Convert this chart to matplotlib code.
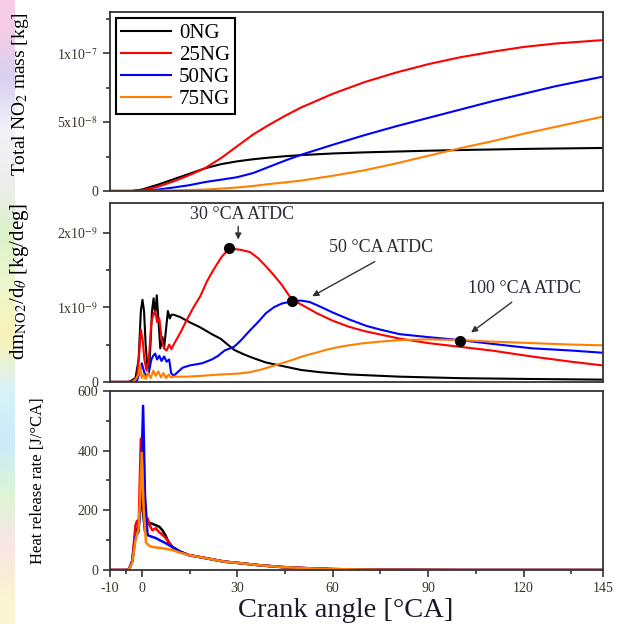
import matplotlib
matplotlib.use("Agg")
import matplotlib.pyplot as plt
import numpy as np

### Data Start ###
labels = ["0NG", "25NG", "50NG", "75NG"]
colors = ["black", "#ff0000", "#0000ff", "#ff8000"]

# total NO2 mass, units of 1e-8 kg
mass_x = [-10, -3, 0, 5, 10, 15, 20, 25, 30, 35, 40, 45, 50, 60, 70, 80, 90, 100, 110, 120, 130, 145]
mass_0ng = [0, 0, 0.1, 0.45, 0.85, 1.25, 1.65, 1.95, 2.15, 2.3, 2.42, 2.52, 2.6, 2.72, 2.8, 2.86, 2.92, 2.97, 3.01, 3.05, 3.08, 3.12]
mass_25ng = [0, 0, 0.05, 0.3, 0.7, 1.15, 1.67, 2.4, 3.25, 4.1, 4.8, 5.45, 6.05, 7.05, 7.9, 8.6, 9.2, 9.7, 10.1, 10.45, 10.7, 10.95]
mass_50ng = [0, 0, 0.02, 0.1, 0.25, 0.42, 0.65, 0.82, 1.0, 1.3, 1.75, 2.2, 2.62, 3.35, 4.05, 4.7, 5.3, 5.9, 6.5, 7.05, 7.6, 8.3]
mass_75ng = [0, 0, 0, 0.02, 0.04, 0.07, 0.1, 0.17, 0.25, 0.36, 0.5, 0.62, 0.75, 1.1, 1.5, 2.0, 2.55, 3.1, 3.6, 4.15, 4.65, 5.4]

# dm/dtheta, units of 1e-9 kg/deg
rate_x_0ng = [-10, -4, -2, -1, -0.3, 0.2, 0.7, 1.2, 1.8, 2.5, 3.2, 3.7, 4.2, 4.7, 5.2, 5.8, 6.5, 7.0, 7.6, 8.2,
              8.8, 9.3, 10, 12, 15, 18.4, 22, 24.7, 27, 29, 32, 35, 39, 45.6, 50, 56, 65, 81, 100, 120, 145]
rate_0ng = [0, 0, 0.05, 0.3, 0.95, 1.1, 0.95, 0.5, 0.18, 0.3, 0.95, 1.12, 0.9, 1.16, 0.85, 0.45, 0.6, 0.45, 0.7, 0.95,
            0.85, 0.9, 0.9, 0.87, 0.8, 0.73, 0.64, 0.58, 0.5, 0.43, 0.37, 0.32, 0.26, 0.2, 0.16, 0.13, 0.1, 0.07,
            0.05, 0.04, 0.03]
rate_x_25ng = [-10, -3, -1.5, -0.8, -0.3, 0.3, 0.8, 1.5, 2.2, 3.0, 3.6, 4.2, 4.8, 5.5, 6.3, 7.0, 7.8, 8.6, 9.3, 10,
               12, 14, 16, 18.4, 20.5, 22.5, 25, 27.5, 31, 34, 36.5, 39, 41.5, 44, 47.2, 50, 55, 60, 65, 70, 81,
               90, 100, 110, 122.6, 135, 145]
rate_25ng = [0, 0, 0.05, 0.4, 0.7, 0.55, 0.3, 0.15, 0.3, 0.8, 0.9, 0.95, 0.8, 0.85, 0.55, 0.45, 0.42, 0.5, 0.44, 0.5,
             0.65, 0.82, 0.98, 1.15, 1.35, 1.5, 1.67, 1.79, 1.77, 1.74, 1.66, 1.55, 1.43, 1.3, 1.1, 1.04, 0.92, 0.82,
             0.74, 0.68, 0.58, 0.52, 0.47, 0.42, 0.34, 0.27, 0.22]
rate_x_50ng = [-10, -3, -1.5, -0.5, 0, 0.8, 1.5, 2.2, 3.0, 3.6, 4.2, 4.8, 5.5, 6.2, 7.0, 7.8, 8.6, 9.2, 10, 11,
               12.8, 15, 19, 22, 24, 26, 29, 31, 34, 36.5, 39, 41.5, 44, 47.2, 50, 52.8, 56, 60, 65, 70.6, 75, 81,
               90, 100, 110, 122.6, 135, 145]
rate_50ng = [0, 0, 0.02, 0.15, 0.25, 0.12, 0.08, 0.12, 0.3, 0.35, 0.38, 0.3, 0.35, 0.28, 0.34, 0.27, 0.3, 0.12, 0.08, 0.12,
             0.19, 0.22, 0.25, 0.3, 0.35, 0.42, 0.47, 0.55, 0.69, 0.8, 0.92, 1.0, 1.05, 1.08, 1.09, 1.07, 1.01, 0.93,
             0.84, 0.75, 0.7, 0.64, 0.6, 0.56, 0.51, 0.45, 0.42, 0.39]
rate_x_75ng = [-10, -3, -2, -1, -0.5, 0, 0.6, 1.2, 2, 2.8, 3.6, 4.4, 5.2, 6, 6.8, 7.6, 8.4, 9.2, 10, 14,
               18.4, 25, 30, 34, 38, 41, 44, 47, 49.7, 52, 54.7, 58, 61, 65, 70, 75, 81, 90, 100, 110, 122.6, 135, 145]
rate_75ng = [0, 0, 0.03, 0.1, 0.22, 0.05, 0.1, 0.04, 0.12, 0.05, 0.15, 0.08, 0.14, 0.06, 0.12, 0.05, 0.1, 0.06, 0.07, 0.07,
             0.08, 0.1, 0.11, 0.13, 0.17, 0.21, 0.25, 0.29, 0.33, 0.36, 0.39, 0.43, 0.46, 0.49, 0.52, 0.54, 0.56,
             0.57, 0.56, 0.54, 0.52, 0.5, 0.49]

# marked points on the rate curves
mark_x = [27.5, 47.2, 100]
mark_y = [1.79, 1.08, 0.55]
mark_text = ["30 \u00b0CA ATDC", "50 \u00b0CA ATDC", "100 \u00b0CA ATDC"]

# heat release rate, J/degCA
hrr_x_0ng = [-10, -5, -4, -3, -2, -1, -0.5, 0, 0.5, 1, 1.5, 2.3, 3.3, 4.4, 5.5, 6.5, 7.5, 8.4, 9.6, 12,
             14.8, 20, 26, 30, 37, 44, 52, 60, 75, 100, 145]
hrr_0ng = [0, 0, 3, 30, 120, 150, 200, 270, 180, 130, 150, 158, 155, 150, 145, 133, 115, 93, 77, 62,
           50, 40, 28, 24, 16, 10, 6, 3, 1, 0, 0]
hrr_x_25ng = [-10, -5, -4, -3, -2, -1.5, -1, -0.3, 0.3, 1, 1.8, 2.5, 3.3, 4.4, 5.4, 6.5, 7.5, 8.5, 9.6, 12,
              14.8, 20, 26, 30, 37, 44, 52, 60, 75, 100, 145]
hrr_25ng = [0, 0, 3, 30, 150, 165, 140, 440, 250, 150, 173, 150, 133, 140, 127, 118, 107, 95, 77, 60,
            50, 40, 28, 24, 16, 10, 6, 3, 1, 0, 0]
hrr_x_50ng = [-10, -5, -4, -3, -2, -1, -0.3, 0.4, 1, 1.8, 3, 4.4, 6, 7.5, 9.6, 12,
              14.8, 20, 26, 30, 37, 44, 52, 60, 75, 100, 145]
hrr_50ng = [0, 0, 3, 30, 110, 130, 250, 550, 250, 117, 112, 107, 98, 90, 77, 62,
            50, 40, 28, 24, 16, 10, 6, 3, 1, 0, 0]
hrr_x_75ng = [-10, -5, -4, -3, -2, -1, -0.5, 0, 0.6, 1.3, 2.2, 3.3, 5, 6.5, 8, 9.6, 12,
              14.8, 20, 26, 30, 37, 44, 52, 60, 75, 100, 145]
hrr_75ng = [0, 0, 3, 25, 100, 140, 250, 393, 200, 93, 82, 77, 75, 73, 70, 67, 58,
            50, 40, 28, 24, 16, 10, 6, 3, 1, 0, 0]

x_ticks = [-10, 0, 30, 60, 90, 120, 145]
x_minor = [-5, 15, 45, 75, 105, 135]
### Data End ###

plt.rcParams['font.family'] = ['Liberation Serif', 'DejaVu Serif']
plt.rcParams['mathtext.fontset'] = 'stix'

tick_col = '#3a3428'
spine_col = '#333333'

fig = plt.figure(figsize=(6.25, 6.24), dpi=100)

# pastel strip on the far left (slide background)
strip = fig.add_axes([0, 0, 0.024, 1])
strip_cols = np.array([[0.97, 0.80, 0.90], [0.85, 0.82, 0.95], [0.95, 0.95, 0.97], [0.93, 0.93, 0.93],
                       [0.86, 0.95, 0.80], [0.93, 0.97, 0.80], [0.98, 0.95, 0.72], [0.85, 0.95, 0.97],
                       [0.80, 0.92, 0.98], [0.87, 0.96, 0.84], [0.98, 0.90, 0.90], [0.98, 0.96, 0.82]])
strip.imshow(strip_cols.reshape(-1, 1, 3), aspect='auto', interpolation='bilinear', extent=[0, 1, 0, 1])
strip.axis('off')

ax1 = fig.add_axes([0.176, 0.694, 0.789, 0.287])
ax2 = fig.add_axes([0.176, 0.388, 0.789, 0.287])
ax3 = fig.add_axes([0.176, 0.0865, 0.789, 0.287])

for ys, lab, c in zip([mass_0ng, mass_25ng, mass_50ng, mass_75ng], labels, colors):
    ax1.plot(mass_x, np.array(ys) * 1e-8, color=c, lw=1.5, label=lab)

for xs, ys, c in zip([rate_x_0ng, rate_x_25ng, rate_x_50ng, rate_x_75ng],
                     [rate_0ng, rate_25ng, rate_50ng, rate_75ng], colors):
    ax2.plot(xs, np.array(ys) * 1e-9, color=c, lw=1.5)
ax2.plot(mark_x, np.array(mark_y) * 1e-9, 'o', color='black', ms=7, zorder=5)

# annotation text position / arrow start, as (text x, text y, arrow x0, y0, arrow x1, y1)
ann = [(31.6, 2.24, 30.3, 2.12, 30.3, 1.87),
       (75.3, 1.80, 74.0, 1.63, 52.8, 1.13),
       (120.3, 1.25, 117.0, 1.09, 102.8, 0.64)]
for t, (tx, ty, ax0, ay0, ax1_, ay1) in zip(mark_text, ann):
    ax2.text(tx, ty * 1e-9, t, ha='center', va='center', fontsize=13, color='#2b2b38')
    ax2.annotate('', xy=(ax1_, ay1 * 1e-9), xytext=(ax0, ay0 * 1e-9),
                 arrowprops=dict(arrowstyle='-|>', color='#333333', lw=1, mutation_scale=9))

for xs, ys, c in zip([hrr_x_0ng, hrr_x_25ng, hrr_x_50ng, hrr_x_75ng],
                     [hrr_0ng, hrr_25ng, hrr_50ng, hrr_75ng], colors):
    ax3.plot(xs, ys, color=c, lw=1.8)

for ax in [ax1, ax2, ax3]:
    ax.set_xlim(-10, 145)
    for s in ax.spines.values():
        s.set_color(spine_col)
        s.set_linewidth(1.3)
    ax.tick_params(which='both', direction='out', color=spine_col, labelcolor=tick_col,
                   labelsize=10, top=False, right=False, width=1.2)
    ax.tick_params(which='major', length=5)
    ax.tick_params(which='minor', length=3)

ax1.set_ylim(0, 1.3e-7)
ax1.set_yticks([0, 5e-8, 1e-7])
ax1.set_yticks([2.5e-8, 7.5e-8, 1.25e-7], minor=True)
ax1.set_yticklabels(['0', '5x10$^{-8}$', '1x10$^{-7}$'])
ax1.set_xticks([])
ax1.set_ylabel('Total NO$_2$ mass [kg]', fontsize=14)
ax1.yaxis.set_label_coords(-0.16, 0.54)
leg = ax1.legend(loc='upper left', fontsize=15, handlelength=2.4, handletextpad=0.35,
                 labelspacing=0.12, borderpad=0.25, fancybox=False, framealpha=1,
                 borderaxespad=0.3)
leg.get_frame().set_edgecolor('black')
leg.get_frame().set_linewidth(1.5)

ax2.set_ylim(0, 2.4e-9)
ax2.set_yticks([0, 1e-9, 2e-9])
ax2.set_yticks([0.5e-9, 1.5e-9], minor=True)
ax2.set_yticklabels(['0', '1x10$^{-9}$', '2x10$^{-9}$'])
ax2.set_xticks([])
ax2.set_ylabel(r'dm$_{\mathrm{NO2}}$/d$_{\theta}$ [kg/deg]', fontsize=15)
ax2.yaxis.set_label_coords(-0.16, 0.56)

ax3.set_ylim(0, 600)
ax3.set_yticks([0, 200, 400, 600])
ax3.set_yticks([100, 300, 500], minor=True)
ax3.set_xticks(x_ticks)
ax3.set_xticks(x_minor, minor=True)
ax3.set_xticklabels([str(v) for v in x_ticks])
ax3.set_ylabel('Heat release rate [J/\u00b0CA]', fontsize=12)
ax3.yaxis.set_label_coords(-0.13, 0.5)
ax3.set_xlabel('Crank angle [\u00b0CA]', fontsize=20.5, color='#1a1a2a')
ax3.xaxis.set_label_coords(0.477, -0.155)

fig.savefig('out.png', dpi=100)
